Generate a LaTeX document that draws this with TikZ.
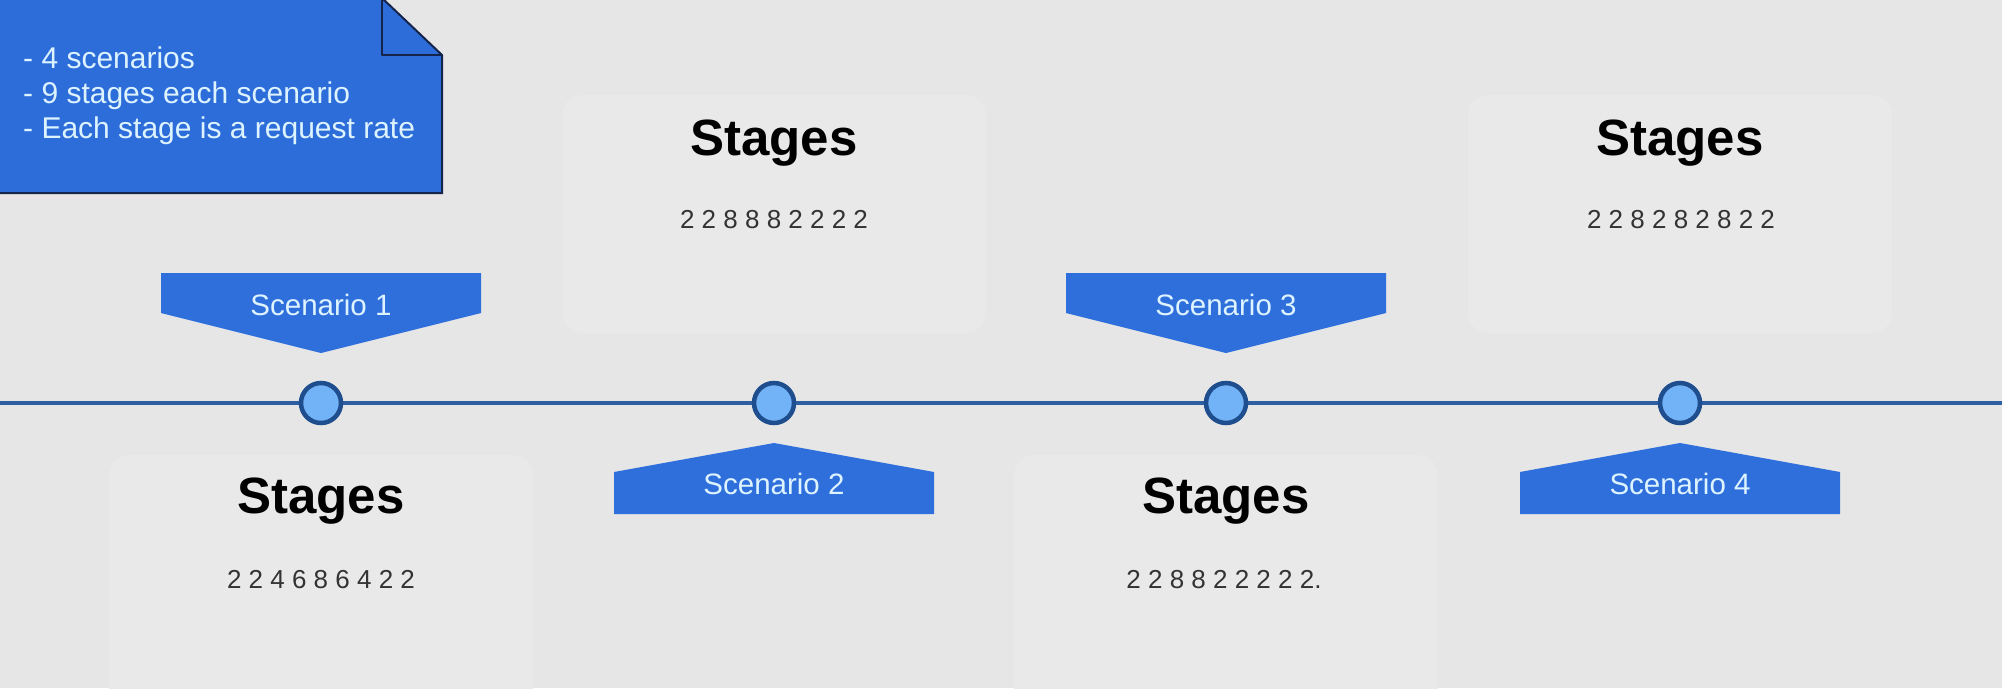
\documentclass[tikz,border=0pt]{standalone}
\usepackage{fontspec}
\setmainfont{Liberation Sans}
\definecolor{bg}{HTML}{E6E6E6}
\definecolor{boxbg}{HTML}{E9E9E9}
\definecolor{pentblue}{HTML}{2F6FDC}
\definecolor{notered}{HTML}{2D6DDA}
\definecolor{noteline}{HTML}{15244A}
\definecolor{lightcyan}{HTML}{DDF3FF}
\definecolor{tline}{HTML}{2F5FA3}
\definecolor{dotfill}{HTML}{72B2F6}
\definecolor{dotline}{HTML}{1E4E8E}
\definecolor{numgray}{HTML}{333333}
\begin{document}
\begin{tikzpicture}[x=1pt,y=-1pt,
  stagebox/.style={fill=boxbg,rounded corners=20pt},
  stagetitle/.style={anchor=base,inner sep=0pt,font=\fontsize{51}{60}\selectfont\bfseries,text=black},
  stagenums/.style={anchor=base,inner sep=0pt,font=\fontsize{26}{30}\selectfont,text=numgray},
  pent/.style={fill=pentblue},
  scentext/.style={anchor=base,inner sep=0pt,font=\fontsize{29.5}{32}\selectfont,text=lightcyan},
  dot/.style={circle,draw=dotline,line width=4.5pt,fill=dotfill,minimum size=40pt,inner sep=0pt},
  notetext/.style={anchor=base west,inner sep=0pt,font=\fontsize{30}{35}\selectfont,text=lightcyan},
]
\fill[bg] (0,0) rectangle (2002,688);
\useasboundingbox (0,0) rectangle (2002,688);

% stage boxes
\fill[stagebox] (109,455) rectangle (533,710);
\fill[stagebox] (562,95) rectangle (986,333);
\fill[stagebox] (1014,455) rectangle (1438,710);
\fill[stagebox] (1468,95) rectangle (1892,333);

% note
\filldraw[fill=notered,draw=noteline,line width=2pt]
  (-5,-2) -- (382,-2) -- (442,55) -- (442,193) -- (-5,193) -- cycle;
\draw[noteline,line width=2pt,line join=round] (382,-2) -- (382,55) -- (442,55);
\node[notetext] (n1) at (23,68) {- 4 scenarios};
\node[notetext] (n2) at (23,103) {- 9 stages each scenario};
\node[notetext] (n3) at (23,138) {- Each stage is a request rate};

% timeline
\coordinate (L) at (0,403);
\coordinate (R) at (2002,403);
\draw[tline,line width=3.5pt] (L) -- (R);
\node[dot] (c1) at (321,403) {};
\node[dot] (c2) at (774,403) {};
\node[dot] (c3) at (1226,403) {};
\node[dot] (c4) at (1680,403) {};

% scenario labels
\fill[pent] (161,273) -- (481,273) -- (481,313) -- (321,353) -- (161,313) -- cycle;
\node[scentext] (s1) at (321,315) {Scenario 1};
\fill[pent] (614,514) -- (614,472) -- (774,443) -- (934,472) -- (934,514) -- cycle;
\node[scentext] (s2) at (774,494) {Scenario 2};
\fill[pent] (1066,273) -- (1386,273) -- (1386,313) -- (1226,353) -- (1066,313) -- cycle;
\node[scentext] (s3) at (1226,315) {Scenario 3};
\fill[pent] (1520,514) -- (1520,472) -- (1680,443) -- (1840,472) -- (1840,514) -- cycle;
\node[scentext] (s4) at (1680,494) {Scenario 4};

% stages texts
\node[stagetitle] (t1) at (321,513) {Stages};
\node[stagenums] (v1) at (321,588) {2 2 4 6 8 6 4 2 2};
\node[stagetitle] (t2) at (774,155) {Stages};
\node[stagenums] (v2) at (774,228) {2 2 8 8 8 2 2 2 2};
\node[stagetitle] (t3) at (1226,513) {Stages};
\node[stagenums] (v3) at (1224,588) {2 2 8 8 2 2 2 2 2.};
\node[stagetitle] (t4) at (1680,155) {Stages};
\node[stagenums] (v4) at (1681,228) {2 2 8 2 8 2 8 2 2};
\end{tikzpicture}
\end{document}
